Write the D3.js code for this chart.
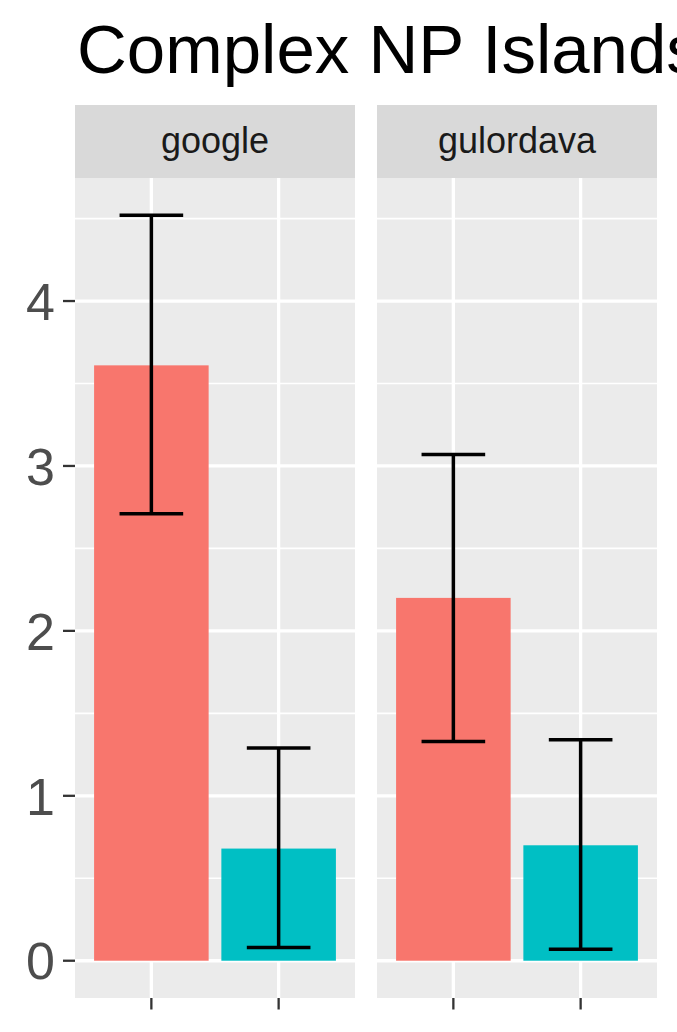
<!DOCTYPE html>
<html>
<head>
<meta charset="utf-8">
<script src="https://cdn.jsdelivr.net/npm/d3@7"></script>
<style>
html,body{margin:0;padding:0;background:#fff;}
svg{display:block;}
</style>
</head>
<body>
<svg id="chart" width="677" height="1032"></svg>
<script>
const panels = ["google", "gulordava"];
const groups = ["a", "b"];
const colors = ["#F8766D", "#00BFC4"];
const meanValues = [[3.61, 0.68], [2.20, 0.70]];
const lowerValues = [[2.71, 0.08], [1.33, 0.07]];
const upperValues = [[4.52, 1.29], [3.07, 1.34]];
const yTicks = [0, 1, 2, 3, 4];
const yMinor = [0.5, 1.5, 2.5, 3.5, 4.5];
const title = "Complex NP Islands";

const svg = d3.select("#chart");
const font = "'Liberation Sans', Arial, Helvetica, sans-serif";

const panelTop = 178, panelBottom = 998, stripTop = 105;
const panelX = [[75, 355], [377, 657]];

const maxV = d3.max(upperValues.flat()), minV = 0;
const pad = (maxV - minV) * 0.05;
const y = d3.scaleLinear().domain([minV - pad, maxV + pad]).range([panelBottom, panelTop]);

svg.append("text").attr("x", 77).attr("y", 73)
  .attr("font-family", font).attr("font-size", 69).attr("fill", "#000")
  .text(title);

panels.forEach((p, i) => {
  const [x0, x1] = panelX[i];
  const xc = d3.scaleLinear().domain([0.4, groups.length + 0.6]).range([x0, x1]);
  const g = svg.append("g");
  g.append("rect").attr("x", x0).attr("y", panelTop).attr("width", x1 - x0).attr("height", panelBottom - panelTop).attr("fill", "#EBEBEB");
  g.append("rect").attr("x", x0).attr("y", stripTop).attr("width", x1 - x0).attr("height", panelTop - stripTop).attr("fill", "#D9D9D9");
  g.append("text").attr("x", (x0 + x1) / 2).attr("y", (stripTop + panelTop) / 2).attr("dy", "0.33em")
    .attr("text-anchor", "middle").attr("font-family", font).attr("font-size", 36).attr("fill", "#1A1A1A").text(p);
  g.selectAll(".minor").data(yMinor.filter(v => y(v) >= panelTop && y(v) <= panelBottom)).enter().append("line")
    .attr("x1", x0).attr("x2", x1).attr("y1", d => y(d)).attr("y2", d => y(d))
    .attr("stroke", "#fff").attr("stroke-width", 1.7);
  g.selectAll(".major").data(yTicks).enter().append("line")
    .attr("x1", x0).attr("x2", x1).attr("y1", d => y(d)).attr("y2", d => y(d))
    .attr("stroke", "#fff").attr("stroke-width", 3.3);
  g.selectAll(".vmajor").data(groups).enter().append("line")
    .attr("x1", (d, j) => xc(j + 1)).attr("x2", (d, j) => xc(j + 1)).attr("y1", panelTop).attr("y2", panelBottom)
    .attr("stroke", "#fff").attr("stroke-width", 3.3);
  const bw = xc(1.9) - xc(1);
  g.selectAll(".bar").data(groups).enter().append("rect")
    .attr("x", (d, j) => xc(j + 1) - bw / 2).attr("width", bw)
    .attr("y", (d, j) => y(meanValues[i][j])).attr("height", (d, j) => y(0) - y(meanValues[i][j]))
    .attr("fill", (d, j) => colors[j]);
  const ew = xc(1.5) - xc(1);
  groups.forEach((d, j) => {
    const cx = xc(j + 1);
    const eg = g.append("g").attr("stroke", "#000").attr("stroke-width", 3.5).attr("fill", "none");
    eg.append("line").attr("x1", cx).attr("x2", cx).attr("y1", y(lowerValues[i][j])).attr("y2", y(upperValues[i][j]));
    eg.append("line").attr("x1", cx - ew / 2).attr("x2", cx + ew / 2).attr("y1", y(lowerValues[i][j])).attr("y2", y(lowerValues[i][j]));
    eg.append("line").attr("x1", cx - ew / 2).attr("x2", cx + ew / 2).attr("y1", y(upperValues[i][j])).attr("y2", y(upperValues[i][j]));
    g.append("line").attr("x1", cx).attr("x2", cx).attr("y1", panelBottom).attr("y2", panelBottom + 11.5)
      .attr("stroke", "#333").attr("stroke-width", 2.3);
  });
});

const ya = svg.append("g");
yTicks.forEach(v => {
  ya.append("line").attr("x1", 63).attr("x2", 75).attr("y1", y(v)).attr("y2", y(v)).attr("stroke", "#333").attr("stroke-width", 2.3);
  ya.append("text").attr("x", 55).attr("y", y(v)).attr("dy", "0.36em").attr("text-anchor", "end")
    .attr("font-family", font).attr("font-size", 52).attr("fill", "#4D4D4D").text(v);
});
</script>
</body>
</html>
